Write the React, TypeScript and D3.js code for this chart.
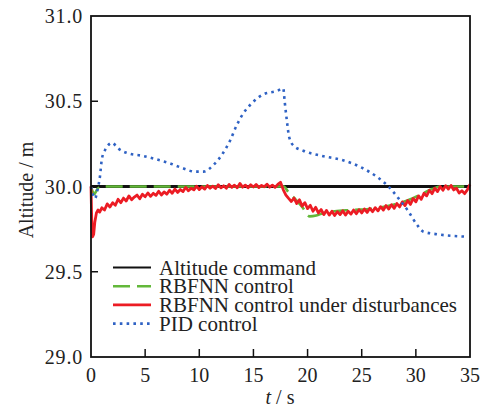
import React from "react";
import * as d3 from "d3";

const xTicks = [0, 5, 10, 15, 20, 25, 30, 35];
const yTicks = [29.0, 29.5, 30.0, 30.5, 31.0];
const seriesNames = ["Altitude command", "RBFNN control", "RBFNN control under disturbances", "PID control"];

const commandData: [number, number][] = [[0, 30.0], [35, 30.0]];

const rbfnnData: [number, number][] = [
  [0, 30.0], [0.15, 29.97], [0.3, 29.955], [0.5, 29.975], [0.8, 30.0], [17.8, 30.0],
  [18.2, 29.97], [18.8, 29.93], [19.5, 29.88], [20.2, 29.825], [20.8, 29.83], [21.5, 29.845],
  [22.5, 29.855], [24, 29.862], [26, 29.87], [28, 29.895], [29.5, 29.925], [30.5, 29.955],
  [31.5, 29.985], [32.3, 30.0], [35, 30.0],
];

const disturbedData: [number, number][] = [
  [0, 30.0], [0.05, 29.85], [0.1, 29.74], [0.15, 29.705], [0.25, 29.72], [0.35, 29.79], [0.5, 29.845],
  [0.65, 29.862], [0.8, 29.85], [1.0, 29.875], [1.25, 29.862], [1.5, 29.898], [1.75, 29.88],
  [2.0, 29.905], [2.25, 29.89], [2.5, 29.925], [2.75, 29.905], [3.0, 29.932], [3.25, 29.915],
  [3.5, 29.945], [3.75, 29.922], [4.0, 29.938], [4.25, 29.95], [4.5, 29.928], [4.75, 29.955],
  [5.0, 29.94], [5.25, 29.962], [5.5, 29.942], [5.75, 29.96], [6.0, 29.948], [6.25, 29.972],
  [6.5, 29.95], [6.75, 29.968], [7.0, 29.955], [7.25, 29.978], [7.5, 29.96], [7.75, 29.985],
  [8.0, 29.965], [8.25, 29.982], [8.5, 29.97], [8.75, 29.995], [9.0, 29.975], [9.25, 29.99],
  [9.5, 29.98], [9.75, 30.002], [10.0, 29.982], [10.25, 29.998], [10.5, 29.985], [10.75, 30.006],
  [11.0, 29.99], [11.25, 30.002], [11.5, 29.988], [11.75, 30.01], [12.0, 29.992], [12.25, 30.004],
  [12.5, 29.99], [12.75, 30.012], [13.0, 29.995], [13.25, 30.008], [13.5, 29.992], [13.75, 30.018],
  [14.0, 29.996], [14.25, 30.008], [14.5, 29.993], [14.75, 30.01], [15.0, 29.997], [15.25, 30.012],
  [15.5, 29.994], [15.75, 30.006], [16.0, 29.998], [16.25, 30.014], [16.5, 29.996], [16.75, 30.008],
  [17.0, 29.995], [17.25, 30.012], [17.5, 30.025], [17.75, 29.982], [18.0, 29.95], [18.25, 29.93],
  [18.5, 29.912], [18.75, 29.932], [19.0, 29.9], [19.25, 29.922], [19.5, 29.885], [19.75, 29.905],
  [20.0, 29.87], [20.25, 29.89], [20.5, 29.855], [20.75, 29.878], [21.0, 29.845], [21.25, 29.865],
  [21.5, 29.835], [21.75, 29.86], [22.0, 29.832], [22.25, 29.855], [22.5, 29.83], [22.75, 29.852],
  [23.0, 29.835], [23.25, 29.858], [23.5, 29.832], [23.75, 29.855], [24.0, 29.838], [24.25, 29.862],
  [24.5, 29.84], [24.75, 29.864], [25.0, 29.845], [25.25, 29.868], [25.5, 29.848], [25.75, 29.872],
  [26.0, 29.852], [26.25, 29.876], [26.5, 29.857], [26.75, 29.882], [27.0, 29.862], [27.25, 29.888],
  [27.5, 29.868], [27.75, 29.893], [28.0, 29.872], [28.25, 29.9], [28.5, 29.88], [28.75, 29.91],
  [29.0, 29.888], [29.25, 29.918], [29.5, 29.895], [29.75, 29.93], [30.0, 29.91], [30.25, 29.945],
  [30.5, 29.925], [30.75, 29.96], [31.0, 29.945], [31.25, 29.978], [31.5, 29.958], [31.75, 29.99],
  [32.0, 29.97], [32.25, 30.0], [32.5, 29.978], [32.75, 30.005], [33.0, 29.985], [33.25, 30.006],
  [33.5, 29.98], [33.75, 29.99], [34.0, 29.962], [34.25, 29.975], [34.5, 29.958], [34.75, 29.98],
  [35.0, 30.012],
];

const pidData: [number, number][] = [
  [0, 30.0], [0.37, 29.93], [0.6, 29.98], [0.83, 30.06], [1.0, 30.16], [1.3, 30.214], [1.97, 30.256],
  [2.43, 30.227], [3.45, 30.194], [4.74, 30.18], [6.0, 30.16], [7.24, 30.137], [8.53, 30.106],
  [9.6, 30.087], [10.4, 30.087], [11.3, 30.126], [12.08, 30.185], [12.85, 30.27], [13.46, 30.36],
  [14.08, 30.43], [14.85, 30.488], [15.9, 30.54], [17.16, 30.56], [17.75, 30.575], [17.9, 30.49],
  [18.08, 30.39], [18.3, 30.29], [18.7, 30.24], [19.6, 30.21], [21.3, 30.18], [23.2, 30.155],
  [24.86, 30.115], [26.4, 30.057], [27.5, 29.998], [28.4, 29.93], [29.3, 29.855], [30.1, 29.776],
  [30.7, 29.735], [31.95, 29.72], [34.57, 29.706],
];

const W = 483;
const H = 409;
const left = 91;
const right = 470;
const top = 16;
const bottom = 357;
const font = "'Liberation Serif', 'Times New Roman', serif";

export default function App() {
  const x = d3.scaleLinear().domain([0, 35]).range([left, right]);
  const y = d3.scaleLinear().domain([29, 31]).range([bottom, top]);
  const line = d3.line<[number, number]>().x((d) => x(d[0])).y((d) => y(d[1]));
  const smooth = d3
    .line<[number, number]>()
    .x((d) => x(d[0]))
    .y((d) => y(d[1]))
    .curve(d3.curveMonotoneX);

  const colors = ["#111111", "#63b83a", "#ec1c24", "#2f62c4"];
  const legendBase = [274.5, 293.2, 311.9, 330.6];
  const legX1 = 113;
  const legX2 = 151;

  const styles = [
    { stroke: colors[0], width: 3, dash: undefined as string | undefined },
    { stroke: colors[1], width: 2.6, dash: "17,7" },
    { stroke: colors[2], width: 2.8, dash: undefined },
    { stroke: colors[3], width: 2.6, dash: "2.6,4.2" },
  ];

  return (
    <svg
      width={W}
      height={H}
      style={{ position: "absolute", left: 0, top: 0, background: "#fff" }}
      fontFamily={font}
    >
      <rect x={0} y={0} width={W} height={H} fill="#fff" />
      <path d={line(commandData) || ""} fill="none" stroke={styles[0].stroke} strokeWidth={styles[0].width} />
      <path d={smooth(rbfnnData) || ""} fill="none" stroke={styles[1].stroke} strokeWidth={styles[1].width} strokeDasharray={styles[1].dash} />
      <path d={line(disturbedData) || ""} fill="none" stroke={styles[2].stroke} strokeWidth={styles[2].width} strokeLinejoin="round" />
      <path d={smooth(pidData) || ""} fill="none" stroke={styles[3].stroke} strokeWidth={styles[3].width} strokeDasharray={styles[3].dash} />

      <rect x={left} y={top} width={right - left} height={bottom - top} fill="none" stroke="#111" strokeWidth={1.8} />
      {yTicks.slice(1, -1).map((v) => (
        <line key={"yt" + v} x1={left} x2={left + 7} y1={y(v)} y2={y(v)} stroke="#111" strokeWidth={1.5} />
      ))}
      {xTicks.slice(1, -1).map((v) => (
        <line key={"xt" + v} x1={x(v)} x2={x(v)} y1={bottom} y2={bottom - 8} stroke="#111" strokeWidth={1.5} />
      ))}
      {yTicks.map((v) => (
        <text key={"yl" + v} x={83} y={y(v) + 7} textAnchor="end" fontSize={20} letterSpacing={0.8} fill="#222">
          {v.toFixed(1)}
        </text>
      ))}
      {xTicks.map((v) => (
        <text key={"xl" + v} x={x(v)} y={382} textAnchor="middle" fontSize={20} fill="#222">
          {v}
        </text>
      ))}
      <text x={280} y={404} textAnchor="middle" fontSize={20} fill="#222">
        <tspan fontStyle="italic">t</tspan> / s
      </text>
      <text transform={`translate(33,190) rotate(-90)`} textAnchor="middle" fontSize={20} fill="#222">
        Altitude / m
      </text>

      {seriesNames.map((name, i) => (
        <g key={name}>
          <line
            x1={legX1}
            x2={legX2}
            y1={legendBase[i] - 7}
            y2={legendBase[i] - 7}
            stroke={styles[i].stroke}
            strokeWidth={i === 0 ? 2 : styles[i].width}
            strokeDasharray={i === 0 ? undefined : styles[i].dash}
          />
          <text x={159} y={legendBase[i]} fontSize={21} fill="#222">
            {name}
          </text>
        </g>
      ))}
    </svg>
  );
}
